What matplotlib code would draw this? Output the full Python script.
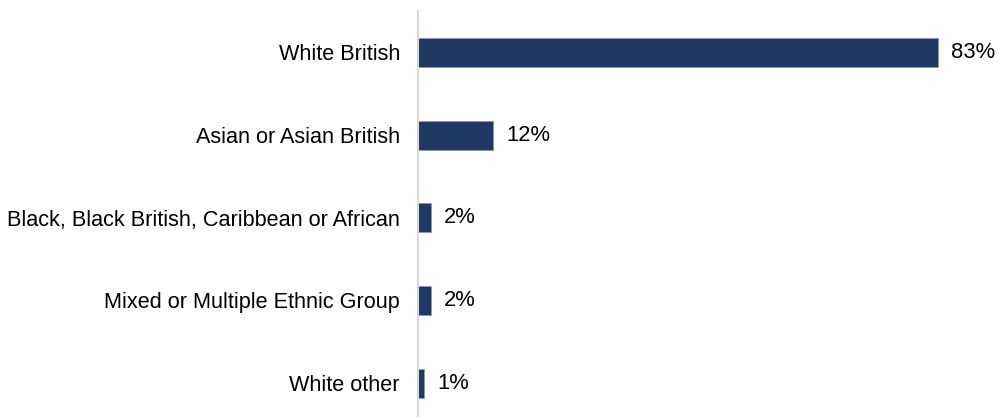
import matplotlib
matplotlib.use("Agg")
import matplotlib.pyplot as plt

categories = ["White British", "Asian or Asian British",
              "Black, Black British, Caribbean or African",
              "Mixed or Multiple Ethnic Group", "White other"]
values = [83, 12, 2, 2, 1]
value_labels = ["83%", "12%", "2%", "2%", "1%"]

plt.rcParams['font.family'] = ['Liberation Sans', 'DejaVu Sans']

W, H = 999, 417
fig = plt.figure(figsize=(W/100, H/100), dpi=100)
left = 418/W
top_px = 11
ax = fig.add_axes([left, 0, 1-left, 1 - top_px/H])
px_per_unit = 520/83
ax.set_xlim(0, (W-418)/px_per_unit)
spacing = 82.7
ax.set_ylim(4 + 34/spacing, -41.5/spacing)

y = list(range(len(categories)))
ax.barh(y, values, height=29/spacing, color="#1F3864", edgecolor="#8A9AB8", linewidth=0.6)
for yi, v, lab in zip(y, values, value_labels):
    ax.annotate(lab, (v, yi), xytext=(9.5, 0), textcoords="offset points",
                va="center", ha="left", fontsize=15.8, color="#000000")

ax.set_yticks(y)
ax.set_yticklabels(categories, fontsize=15.6)
ax.tick_params(axis='y', length=0, pad=13)
ax.set_xticks([])
for s in ["top", "right", "bottom"]:
    ax.spines[s].set_visible(False)
ax.spines["left"].set_color("#D9D9D9")
ax.spines["left"].set_linewidth(1.5)

fig.savefig("out.png", dpi=100)
